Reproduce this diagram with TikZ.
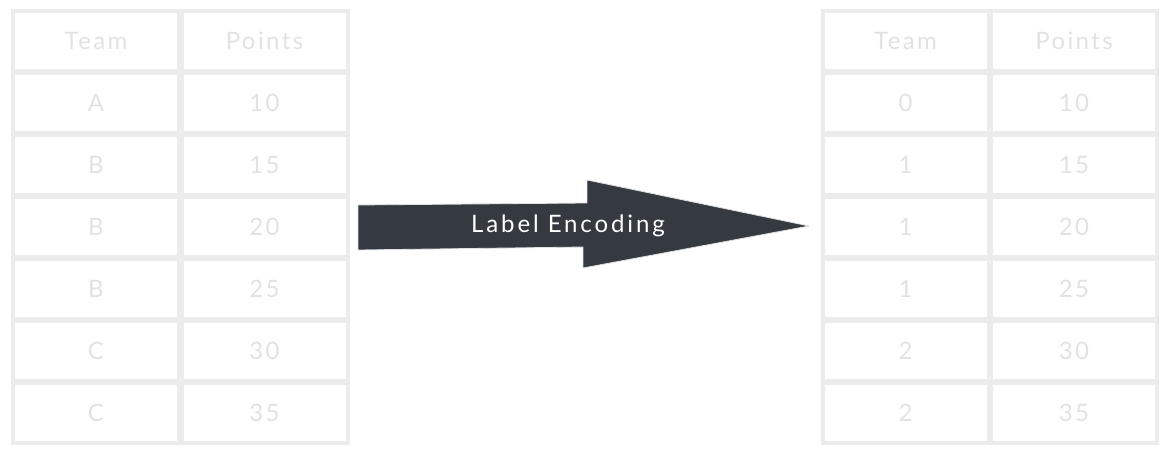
\documentclass[tikz,border=0pt]{standalone}
\usepackage{fontspec}
\setmainfont{Lato}
\newfontfamily\cellfont[LetterSpace=10]{Lato}
\newfontfamily\arrowfont[LetterSpace=12]{Lato}
\definecolor{cellgray}{HTML}{ECECEC}
\definecolor{textgray}{HTML}{E2E2E2}
\definecolor{arrowfill}{HTML}{343A40}
\begin{document}
\begin{tikzpicture}[x=1pt,y=-1pt,
    cell/.style={draw=cellgray,line width=4pt,minimum width=166pt,minimum height=60pt,
      inner sep=0pt,text=textgray,font=\cellfont\fontsize{24}{26}\selectfont},
    bigarrow/.style={fill=arrowfill,draw=white!88!black,line width=0.8pt,line join=round}]
  \useasboundingbox (0,0) rectangle (1168,454);
  % input table
  \draw
    (96,41) node[cell] (lt0){Team}
    (264.5,41) node[cell] (lp0){Points}
    (96,103) node[cell] (lt1){A}
    (264.5,103) node[cell] (lp1){10}
    (96,165) node[cell] (lt2){B}
    (264.5,165) node[cell] (lp2){15}
    (96,227) node[cell] (lt3){B}
    (264.5,227) node[cell] (lp3){20}
    (96,289) node[cell] (lt4){B}
    (264.5,289) node[cell] (lp4){25}
    (96,351) node[cell] (lt5){C}
    (264.5,351) node[cell] (lp5){30}
    (96,413) node[cell] (lt6){C}
    (264.5,413) node[cell] (lp6){35};
  % encoded table
  \draw
    (905.5,41) node[cell] (rt0){Team}
    (1074,41) node[cell] (rp0){Points}
    (905.5,103) node[cell] (rt1){0}
    (1074,103) node[cell] (rp1){10}
    (905.5,165) node[cell] (rt2){1}
    (1074,165) node[cell] (rp2){15}
    (905.5,227) node[cell] (rt3){1}
    (1074,227) node[cell] (rp3){20}
    (905.5,289) node[cell] (rt4){1}
    (1074,289) node[cell] (rp4){25}
    (905.5,351) node[cell] (rt5){2}
    (1074,351) node[cell] (rp5){30}
    (905.5,413) node[cell] (rt6){2}
    (1074,413) node[cell] (rp6){35};
  % the arrow
  \draw[bigarrow] (358,205) -- (587,203) -- (587,180) -- (809,226)
    -- (583,268) -- (583,247) -- (358,250) -- cycle;
  \node[text=white,font=\arrowfont\fontsize{24}{26}\selectfont] (enc) at (568,226) {Label Encoding};
\end{tikzpicture}
\end{document}
